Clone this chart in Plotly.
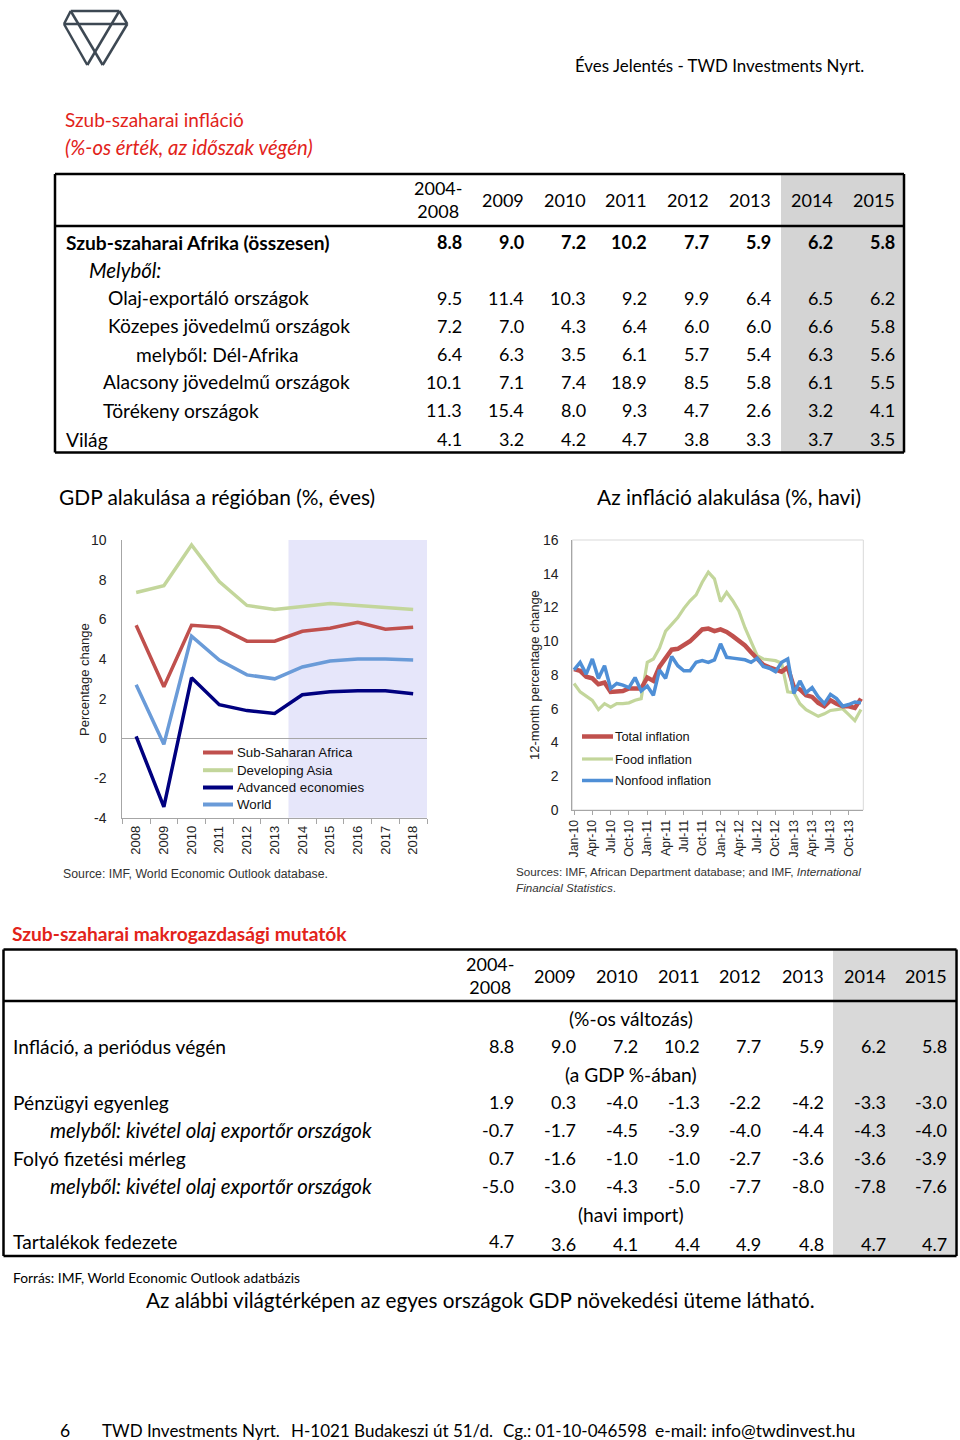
import plotly.graph_objects as go

W, H = 960, 1440
def X(p): return p / W
def Y(p): return 1 - p / H

# ---------------- data ----------------
gdp_years = ["2008", "2009", "2010", "2011", "2012", "2013", "2014", "2015", "2016", "2017", "2018"]
gdp_ssa   = [5.7, 2.6, 5.7, 5.6, 4.9, 4.9, 5.4, 5.55, 5.85, 5.5, 5.6]
gdp_asia  = [7.35, 7.7, 9.75, 7.9, 6.7, 6.5, 6.65, 6.8, 6.7, 6.6, 6.5]
gdp_adv   = [0.1, -3.45, 3.05, 1.7, 1.4, 1.25, 2.2, 2.35, 2.4, 2.4, 2.25]
gdp_world = [2.7, -0.3, 5.15, 3.95, 3.2, 3.0, 3.6, 3.9, 4.0, 4.0, 3.95]
gdp_names = ["Sub-Saharan Africa", "Developing Asia", "Advanced economies", "World"]
gdp_yticks = [-4, -2, 0, 2, 4, 6, 8, 10]
gdp_ytext = ["-4", "-2", "0", "2", "4", "6", "8", "10"]

months = ["Jan-10", "Feb-10", "Mar-10", "Apr-10", "May-10", "Jun-10", "Jul-10", "Aug-10", "Sep-10", "Oct-10", "Nov-10", "Dec-10",
          "Jan-11", "Feb-11", "Mar-11", "Apr-11", "May-11", "Jun-11", "Jul-11", "Aug-11", "Sep-11", "Oct-11", "Nov-11", "Dec-11",
          "Jan-12", "Feb-12", "Mar-12", "Apr-12", "May-12", "Jun-12", "Jul-12", "Aug-12", "Sep-12", "Oct-12", "Nov-12", "Dec-12",
          "Jan-13", "Feb-13", "Mar-13", "Apr-13", "May-13", "Jun-13", "Jul-13", "Aug-13", "Sep-13", "Oct-13", "Nov-13", "Dec-13"]
month_ticks = ["Jan-10", "Apr-10", "Jul-10", "Oct-10", "Jan-11", "Apr-11", "Jul-11", "Oct-11",
               "Jan-12", "Apr-12", "Jul-12", "Oct-12", "Jan-13", "Apr-13", "Jul-13", "Oct-13"]
infl_total = [8.35, 8.25, 7.9, 7.8, 7.45, 7.55, 7.0, 7.05, 7.05, 7.2, 7.2, 7.2,
              7.85, 7.65, 8.5, 9.0, 9.5, 9.55, 9.75, 10.0, 10.35, 10.7, 10.75, 10.6,
              10.7, 10.55, 10.3, 10.0, 9.75, 9.35, 8.95, 8.6, 8.45, 8.3, 8.2, 8.45,
              7.3, 7.15, 6.8, 6.7, 6.35, 6.15, 6.5, 6.3, 6.15, 6.15, 6.05, 6.6]
infl_food = [7.5, 7.0, 6.75, 6.5, 5.95, 6.3, 6.1, 6.3, 6.3, 6.35, 6.5, 6.6,
             8.75, 8.95, 9.6, 10.6, 11.0, 11.4, 11.95, 12.4, 12.75, 13.5, 14.1, 13.7,
             12.35, 12.9, 12.4, 11.8, 10.8, 10.0, 9.15, 8.95, 8.9, 8.85, 8.7, 7.0,
             6.95, 6.3, 5.95, 5.75, 5.55, 5.7, 5.9, 5.95, 6.0, 5.65, 5.3, 5.95]
infl_nonfood = [8.3, 8.75, 8.05, 8.95, 7.8, 8.55, 7.2, 7.5, 7.4, 7.25, 7.85, 7.05,
                7.35, 6.8, 8.3, 7.8, 9.1, 8.55, 8.25, 8.25, 8.75, 8.85, 8.75, 8.9,
                9.85, 9.05, 9.0, 8.95, 8.9, 8.75, 9.0, 8.5, 8.4, 8.2, 8.75, 8.95,
                6.9, 7.65, 6.95, 7.25, 6.7, 6.3, 6.85, 6.6, 6.15, 6.25, 6.4, 6.35]
infl_names = ["Total inflation", "Food inflation", "Nonfood inflation"]

tbl_years = ["2004-<br>2008", "2009", "2010", "2011", "2012", "2013", "2014", "2015"]

t1_labels = ["Szub-szaharai Afrika (összesen)", "Melyből:", "Olaj-exportáló országok",
             "Közepes jövedelmű országok", "melyből: Dél-Afrika", "Alacsony jövedelmű országok",
             "Törékeny országok", "Világ"]
t1_values = [[8.8, 9.0, 7.2, 10.2, 7.7, 5.9, 6.2, 5.8],
             None,
             [9.5, 11.4, 10.3, 9.2, 9.9, 6.4, 6.5, 6.2],
             [7.2, 7.0, 4.3, 6.4, 6.0, 6.0, 6.6, 5.8],
             [6.4, 6.3, 3.5, 6.1, 5.7, 5.4, 6.3, 5.6],
             [10.1, 7.1, 7.4, 18.9, 8.5, 5.8, 6.1, 5.5],
             [11.3, 15.4, 8.0, 9.3, 4.7, 2.6, 3.2, 4.1],
             [4.1, 3.2, 4.2, 4.7, 3.8, 3.3, 3.7, 3.5]]

t2_labels = ["Infláció, a periódus végén", "Pénzügyi egyenleg",
             "melyből: kivétel olaj exportőr országok", "Folyó fizetési mérleg",
             "melyből: kivétel olaj exportőr országok", "Tartalékok fedezete"]
t2_values = [[8.8, 9.0, 7.2, 10.2, 7.7, 5.9, 6.2, 5.8],
             [1.9, 0.3, -4.0, -1.3, -2.2, -4.2, -3.3, -3.0],
             [-0.7, -1.7, -4.5, -3.9, -4.0, -4.4, -4.3, -4.0],
             [0.7, -1.6, -1.0, -1.0, -2.7, -3.6, -3.6, -3.9],
             [-5.0, -3.0, -4.3, -5.0, -7.7, -8.0, -7.8, -7.6],
             [4.7, 3.6, 4.1, 4.4, 4.9, 4.8, 4.7, 4.7]]
t2_units = ["(%-os változás)", "(a GDP %-ában)", "(havi import)"]

# ---------------- styles ----------------
PAGE_FONT = "Lato, Carlito, Calibri, 'Open Sans', sans-serif"
CHART_FONT = "'Liberation Sans', Arial, sans-serif"
RED = "#e2231a"
gdp_colors = ["#c0504d", "#c3d69b", "#00007f", "#6a9bd8"]
gdp_widths = [3.5, 3.5, 3.5, 3.5]
infl_colors = ["#c0504d", "#c3d69b", "#4f8fd6"]
infl_widths = [4.5, 3.2, 3.5]
AX = "#a6a6a6"
LBL = 19.2   # row label size
ITL = 20.4   # italic label size
NUM = 18     # number size

fig = go.Figure()

for name, vals, col, w in zip(gdp_names, [gdp_ssa, gdp_asia, gdp_adv, gdp_world], gdp_colors, gdp_widths):
    fig.add_trace(go.Scatter(x=gdp_years, y=vals, mode="lines", name=name,
                             line=dict(color=col, width=w), xaxis="x", yaxis="y", showlegend=False))

order = [1, 0, 2]
infl_series = [infl_total, infl_food, infl_nonfood]
for k in order:
    fig.add_trace(go.Scatter(x=months, y=infl_series[k], mode="lines", name=infl_names[k],
                             line=dict(color=infl_colors[k], width=infl_widths[k]),
                             xaxis="x2", yaxis="y2", showlegend=False))

shapes = []
annotations = []

def txt(x, y, text, size=18, color="#000", anchor="left", family=PAGE_FONT, yanchor="middle", angle=0):
    annotations.append(dict(x=X(x), y=Y(y), xref="paper", yref="paper", text=text, showarrow=False,
                            xanchor=anchor, yanchor=yanchor, textangle=angle, borderpad=0, borderwidth=0,
                            font=dict(family=family, size=size, color=color)))

def line(x0, y0, x1, y1, color="#000", width=2.5):
    shapes.append(dict(type="line", xref="paper", yref="paper", x0=X(x0), y0=Y(y0), x1=X(x1), y1=Y(y1),
                       line=dict(color=color, width=width)))

def rect(x0, y0, x1, y1, fill):
    shapes.append(dict(type="rect", xref="paper", yref="paper", x0=X(x0), y0=Y(y0), x1=X(x1), y1=Y(y1),
                       fillcolor=fill, line=dict(width=0), layer="below"))

# ---- logo ----
LOGO = "#3d4853"
for (a, b, c, d) in [(70.7, 11, 119.3, 11), (64, 24, 127.3, 24), (70.7, 11, 64, 24), (119.3, 11, 127.3, 24),
                     (64, 24, 87.3, 65), (127.3, 24, 102.7, 65), (70.7, 11, 102.7, 65), (119.3, 11, 87.3, 65)]:
    line(a, b, c, d, LOGO, 2.5)

# ---- header ----
txt(864, 66, "Éves Jelentés - TWD Investments Nyrt.", 16.9, "#000", "right")
txt(65, 119, "Szub-szaharai infláció", 19, RED)
txt(65, 147, "<i>(%-os érték, az időszak végén)</i>", 20.3, RED)

# ---- table 1 ----
t1_cols = [461, 523, 584.5, 646, 707.5, 769.5, 832, 894]
t1_rows = [242, 270, 298, 326, 354, 382, 410, 439]
t1_indent = [66, 89, 108, 108, 136, 103, 103, 66]
rect(781, 174, 903, 452, "#d4d4d4")
for c, yr in zip(t1_cols, tbl_years):
    txt(c + 1, 200, yr, NUM, "#000", "right")
for i, (lab, vals) in enumerate(zip(t1_labels, t1_values)):
    if i == 0:
        txt(t1_indent[i], t1_rows[i], "<b>" + lab + "</b>", LBL)
    elif i == 1:
        txt(t1_indent[i], t1_rows[i], "<i>" + lab + "</i>", ITL)
    else:
        txt(t1_indent[i], t1_rows[i], lab, LBL)
    if vals:
        for c, v in zip(t1_cols, vals):
            vs = f"{v:.1f}"
            if i == 0:
                vs = "<b>" + vs + "</b>"
            txt(c + 1, t1_rows[i], vs, NUM, "#000", "right")
line(55, 174, 904, 174)
line(55, 226, 904, 226)
line(55, 452.5, 904, 452.5)
line(55, 174, 55, 452.5)
line(904, 174, 904, 452.5)

# ---- chart titles ----
txt(59, 496, "GDP alakulása a régióban (%, éves)", 20.9)
txt(861, 496, "Az infláció alakulása (%, havi)", 20.9, "#000", "right")

# ---- left chart extras ----
shapes.append(dict(type="rect", xref="x", yref="y domain", x0=5.5, x1=10.5, y0=0, y1=1,
                   fillcolor="#e6e6fa", line=dict(width=0), layer="below"))
txt(84, 680, "Percentage change", 13, "#222", "center", CHART_FONT, angle=-90)
leg_rows_l = [752.5, 770.2, 787.5, 804.5]
for name, col, yy in zip(gdp_names, gdp_colors, leg_rows_l):
    line(203, yy, 233, yy, col, 4)
    txt(237, yy, name, 13.3, "#111", "left", CHART_FONT)
txt(63, 874, "Source: IMF, World Economic Outlook database.", 12.3, "#333", "left", CHART_FONT)

# ---- right chart extras ----
shapes.append(dict(type="rect", xref="x2 domain", yref="y2 domain", x0=0, x1=1, y0=0, y1=1,
                   fillcolor="rgba(0,0,0,0)", line=dict(color="#d9d9d9", width=1), layer="below"))
txt(534, 675, "12-month percentage change", 13, "#222", "center", CHART_FONT, angle=-90)
leg_rows_r = [736.5, 759, 780.5]
for name, col, w, yy in zip(infl_names, infl_colors, infl_widths, leg_rows_r):
    line(582, yy, 613, yy, col, w)
    txt(615, yy, name, 12.8, "#111", "left", CHART_FONT)
txt(516, 872, "Sources: IMF, African Department database; and IMF, <i>International</i>", 11.7, "#333", "left", CHART_FONT)
txt(516, 887, "<i>Financial Statistics</i>.", 11.7, "#333", "left", CHART_FONT)

# ---- table 2 ----
txt(12, 933, "<b>Szub-szaharai makrogazdasági mutatók</b>", 19.2, RED)
t2_cols = [513, 575, 637, 698.5, 760, 822.5, 884.5, 946]
t2_rows = [1046, 1102, 1130, 1158, 1186, 1242]
t2_indent = [13, 13, 50, 13, 50, 13]
t2_unit_rows = [1018, 1074, 1214]
rect(833, 950, 955, 1255, "#d9d9d9")
for c, yr in zip(t2_cols, tbl_years):
    txt(c + 1, 975.5, yr, NUM, "#000", "right")
for u, yy in zip(t2_units, t2_unit_rows):
    txt(631, yy, u, LBL, "#000", "center")
for i, (lab, vals) in enumerate(zip(t2_labels, t2_values)):
    if lab.startswith("melyből"):
        txt(t2_indent[i], t2_rows[i], "<i>" + lab + "</i>", ITL)
    else:
        txt(t2_indent[i], t2_rows[i] - (1 if i == 5 else 0), lab, LBL)
    for j, (c, v) in enumerate(zip(t2_cols, vals)):
        yy = t2_rows[i]
        if i == 5:
            yy = 1241 if j == 0 else 1244
        txt(c + 1, yy, f"{v:.1f}", NUM, "#000", "right")
line(3.5, 949.5, 956.5, 949.5)
line(3.5, 1001, 956.5, 1001)
line(3.5, 1256, 956.5, 1256)
line(3.5, 949.5, 3.5, 1256)
line(956.5, 949.5, 956.5, 1256)

txt(13, 1277, "Forrás: IMF, World Economic Outlook adatbázis", 13.8)
txt(480, 1300, "Az alábbi világtérképen az egyes országok GDP növekedési üteme látható.", 20.7, "#000", "center")

# ---- footer ----
txt(60, 1430, "6", 17.5)
txt(102, 1430, "TWD Investments Nyrt.", 17)
txt(291, 1430, "H-1021 Budakeszi út 51/d.", 17)
txt(503, 1430, "Cg.: 01-10-046598", 17)
txt(655, 1430, "e-mail: info@twdinvest.hu", 17.6)

fig.update_layout(
    width=W, height=H, margin=dict(l=0, r=0, t=0, b=0, autoexpand=False),
    paper_bgcolor="white", plot_bgcolor="white",
    showlegend=False,
    xaxis=dict(domain=[X(122.3), X(427)], anchor="y", type="category", range=[-0.5, 10.5],
               tickangle=-90, ticks="outside", tickson="boundaries", ticklen=5, tickcolor=AX,
               showline=True, linecolor=AX, linewidth=1, showgrid=False,
               tickfont=dict(family=CHART_FONT, size=13, color="#222"),
               ticklabelstandoff=2, automargin=False, fixedrange=True),
    yaxis=dict(domain=[Y(817.7), Y(540)], anchor="x", range=[-4, 10],
               tickmode="array", tickvals=gdp_yticks, ticktext=gdp_ytext,
               showline=True, linecolor=AX, linewidth=1, showgrid=False,
               zeroline=True, zerolinecolor=AX, zerolinewidth=1,
               ticks="", ticklabelstandoff=12, tickfont=dict(family=CHART_FONT, size=14, color="#222"),
               automargin=False, fixedrange=True),
    xaxis2=dict(domain=[X(572.3), X(863.3)], anchor="y2", type="category",
                categoryorder="array", categoryarray=months, range=[-0.28, 47.38],
                tickmode="array", tickvals=month_ticks, ticktext=month_ticks,
                tickangle=-90, ticks="outside", ticklen=4, tickcolor=AX,
                showline=True, linecolor=AX, linewidth=1, showgrid=False,
                tickfont=dict(family=CHART_FONT, size=12.3, color="#222"),
                automargin=False, fixedrange=True),
    yaxis2=dict(domain=[Y(810), Y(540)], anchor="x2", range=[0, 16], tick0=0, dtick=2,
                showline=True, linecolor=AX, linewidth=1, showgrid=False, zeroline=False,
                ticks="", ticklabelstandoff=10, tickfont=dict(family=CHART_FONT, size=14, color="#222"),
                automargin=False, fixedrange=True),
    shapes=shapes, annotations=annotations,
)

fig.write_html("out.html", config={"displayModeBar": False},
               post_script="document.body.style.margin='0';document.body.style.overflow='hidden';")
